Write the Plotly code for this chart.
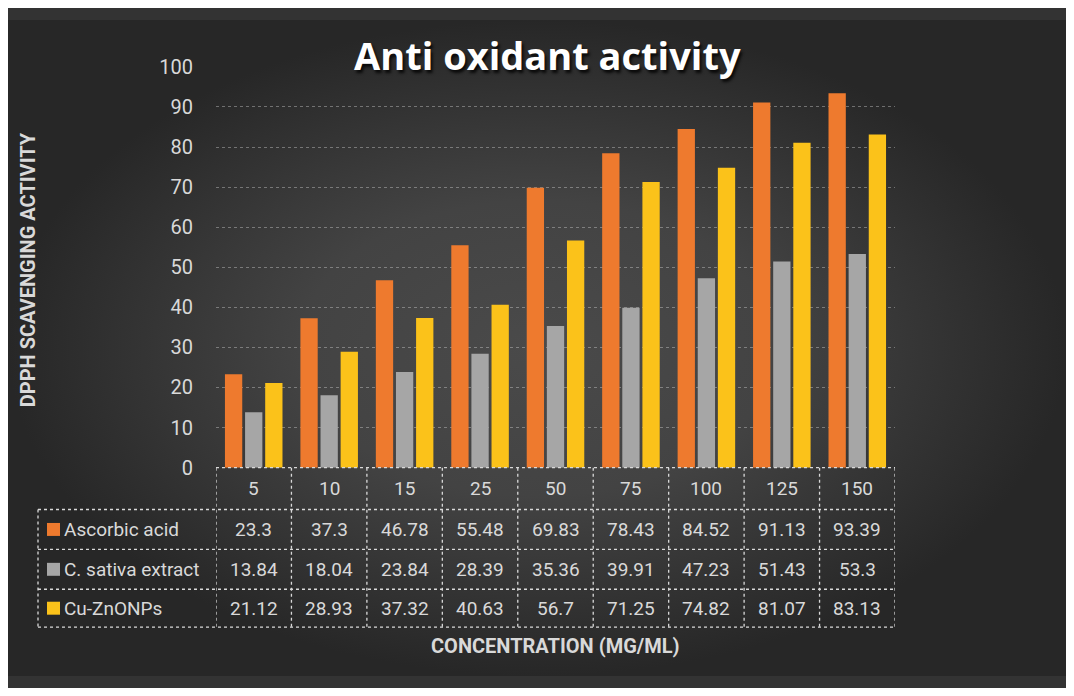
import plotly.graph_objects as go

# ---------------- data ----------------
concentrations = ["5", "10", "15", "25", "50", "75", "100", "125", "150"]
ascorbic_acid = [23.3, 37.3, 46.78, 55.48, 69.83, 78.43, 84.52, 91.13, 93.39]
c_sativa_extract = [13.84, 18.04, 23.84, 28.39, 35.36, 39.91, 47.23, 51.43, 53.3]
cu_zno_nps = [21.12, 28.93, 37.32, 40.63, 56.7, 71.25, 74.82, 81.07, 83.13]
series_names = ["Ascorbic acid", "C. sativa extract", "Cu-ZnONPs"]
series_values = [ascorbic_acid, c_sativa_extract, cu_zno_nps]
y_ticks = [0, 10, 20, 30, 40, 50, 60, 70, 80, 90, 100]

# ---------------- style / layout (reference-pixel coordinates) ----------------
series_colors = ["#EE7A2E", "#A6A6A6", "#FBC21A"]
OX, OY = 8, 19              # where the figure sits in the page
FW, FH = 1058, 658          # autosized figure size
PL, PR, PT, PB = 216, 895, 66, 468
TABLE_LEFT = 38
HEADER_BOTTOM = 510
ROW_LINES = [510, 550, 590, 628]
TXT = "#d9d9d9"
GRID_COL = "rgba(217,217,217,0.40)"
NUM_FONT = "Roboto, 'Open Sans', sans-serif"
COND_FONT = "'Liberation Sans Narrow', Roboto, sans-serif"


def px(x):
    return (x - OX) / FW


def py(y):
    return 1 - (y - OY) / FH


fig = go.Figure()

# background radial gradient on a full-figure helper subplot
fig.add_trace(go.Scatter(
    x=[0, 1, 1, 0, 0], y=[0, 0, 1, 1, 0],
    fill="toself", mode="lines", line=dict(width=0),
    fillgradient=dict(type="radial",
                      colorscale=[[0, "#4a4a4a"], [0.45, "#434343"], [1, "#272727"]]),
    hoverinfo="skip", showlegend=False, xaxis="x", yaxis="y"))

for name, vals, col in zip(series_names, series_values, series_colors):
    fig.add_trace(go.Bar(x=concentrations, y=vals, name=name,
                         marker=dict(color=col, line=dict(width=0)),
                         xaxis="x2", yaxis="y2", showlegend=False))

shapes = []
annotations = []
line_style = dict(color=TXT, width=1.3, dash="dot")

# table horizontal lines
shapes.append(dict(type="line", xref="paper", yref="paper",
                   x0=px(PL), x1=px(PR), y0=py(PB), y1=py(PB), line=line_style))
for yl in ROW_LINES:
    shapes.append(dict(type="line", xref="paper", yref="paper",
                       x0=px(TABLE_LEFT), x1=px(PR), y0=py(yl), y1=py(yl), line=line_style))
# table vertical lines
shapes.append(dict(type="line", xref="paper", yref="paper",
                   x0=px(TABLE_LEFT), x1=px(TABLE_LEFT), y0=py(ROW_LINES[0]), y1=py(ROW_LINES[-1]),
                   line=line_style))
for i in range(len(concentrations) + 1):
    shapes.append(dict(type="line", xref="x2", yref="paper",
                       x0=i - 0.5, x1=i - 0.5, y0=py(PB), y1=py(ROW_LINES[-1]), line=line_style))

cell_font = dict(family=NUM_FONT, size=19, color=TXT)

# header labels
for i, c in enumerate(concentrations):
    annotations.append(dict(x=i, xref="x2", y=py((PB + HEADER_BOTTOM) / 2), yref="paper",
                            xanchor="center", yanchor="middle",
                            text=c, showarrow=False, font=cell_font))

# rows
for r, (name, vals, col) in enumerate(zip(series_names, series_values, series_colors)):
    yc = (ROW_LINES[r] + ROW_LINES[r + 1]) / 2
    shapes.append(dict(type="rect", xref="paper", yref="paper",
                       x0=px(47), x1=px(60), y0=py(yc + 6.5), y1=py(yc - 6.5),
                       fillcolor=col, line=dict(width=0)))
    annotations.append(dict(x=px(62), xref="paper", y=py(yc), yref="paper",
                            xanchor="left", yanchor="middle",
                            text=name, showarrow=False, font=cell_font))
    for i, v in enumerate(vals):
        annotations.append(dict(x=i, xref="x2", y=py(yc), yref="paper",
                                xanchor="center", yanchor="middle",
                                text=f"{v:g}", showarrow=False, font=cell_font))

# title and axis titles
annotations.append(dict(x=px(547), y=py(54), xref="paper", yref="paper",
                        xanchor="center", yanchor="middle",
                        text="<b>Anti oxidant activity</b>", showarrow=False,
                        font=dict(family="'Open Sans', sans-serif", size=38, color="#ffffff",
                                  shadow="2px 3px 3px rgba(0,0,0,0.8)")))
annotations.append(dict(x=px(28), y=py(270), xref="paper", yref="paper", textangle=-90,
                        xanchor="center", yanchor="middle",
                        text="<b>DPPH SCAVENGING ACTIVITY</b>", showarrow=False,
                        font=dict(family=COND_FONT, size=20, color=TXT)))
annotations.append(dict(x=px(555), y=py(647), xref="paper", yref="paper",
                        xanchor="center", yanchor="middle",
                        text="<b>CONCENTRATION (MG/ML)</b>", showarrow=False,
                        font=dict(family=COND_FONT, size=20, color=TXT)))

fig.update_layout(
    margin=dict(l=0, r=0, t=0, b=0),
    paper_bgcolor="#333333", plot_bgcolor="rgba(0,0,0,0)",
    barmode="group", bargap=0.2, bargroupgap=0.14,
    showlegend=False,
    xaxis=dict(domain=[0, 1], range=[0, 1], visible=False, fixedrange=True),
    yaxis=dict(domain=[0, 1], range=[0, 1], visible=False, fixedrange=True),
    xaxis2=dict(domain=[px(PL), px(PR)], anchor="y2", type="category",
                range=[-0.5, len(concentrations) - 0.5], showticklabels=False,
                showgrid=False, zeroline=False, showline=False, ticks=""),
    yaxis2=dict(domain=[py(PB), py(PT)], anchor="x2", range=[0, 100],
                tickvals=y_ticks, showgrid=True, gridcolor=GRID_COL, griddash="dot",
                gridwidth=1, zeroline=False, showline=False, ticks="",
                ticklabelstandoff=22,
                tickfont=dict(family=NUM_FONT, size=20, color=TXT)),
    shapes=shapes, annotations=annotations,
)

fig.write_html("out.html")
